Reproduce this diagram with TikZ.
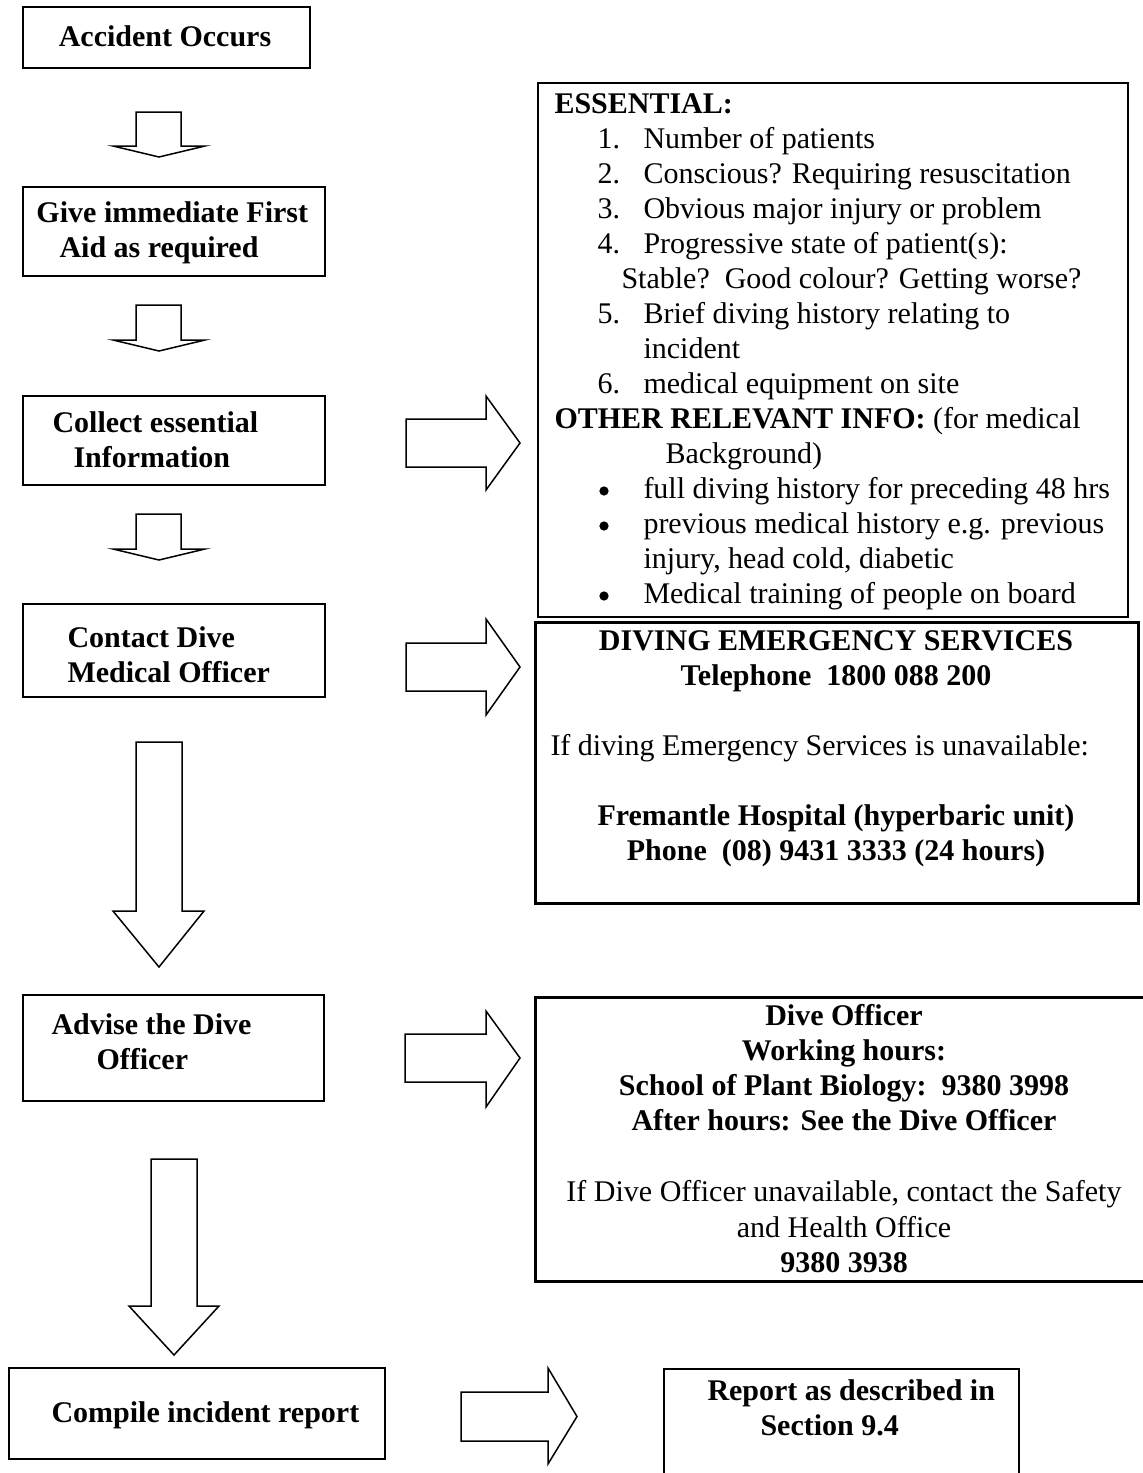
\documentclass[tikz,border=0pt]{standalone}
\usepackage{fontspec}
\setmainfont{Liberation Serif}
\newcommand\pxbox[6][]{%
  \node[boxstyle,minimum width={(#4-#2)*0.4pt},minimum height={(#5-#3)*0.4pt},#1] (#6) at ({(#2+#4)/2},{(#3+#5)/2}) {};}
\newcommand\downblock[8]{% xl xr wl wr top wing tipx tipy
  \draw[arrowstyle] (#1,#5) -- (#2,#5) -- (#2,#6) -- (#4,#6) -- (#7,#8) -- (#3,#6) -- (#1,#6) -- cycle;}
\newcommand\rightblock[7]{% x1 bx tx sy1 sy2 hy1 hy2
  \draw[arrowstyle] (#1,#4) -- (#2,#4) -- (#2,#6) -- (#3,{(#4+#5)/2}) -- (#2,#7) -- (#2,#5) -- (#1,#5) -- cycle;}
\begin{document}
\begin{tikzpicture}[x=0.4pt,y=-0.4pt,
  boxstyle/.style={draw,line width=0.8pt,inner sep=0pt,fill=none},
  heavybox/.style={line width=1.2pt},
  arrowstyle/.style={draw,line width=0.6pt,line join=miter,fill=white},
  txt/.style={anchor=base west,inner sep=0pt,font=\fontsize{12}{14}\selectfont},
  ctxt/.style={anchor=base,inner sep=0pt,font=\fontsize{12}{14}\selectfont},
  bulletdot/.style={circle,fill=black,inner sep=0pt,minimum size=3.7pt},
  bt/.style={font=\fontsize{12}{14}\selectfont\bfseries}]
\useasboundingbox (0,0) rectangle (1143,1473);
\fill[white] (0,0) rectangle (1143,1473);

% left column boxes
\pxbox{23}{7}{310}{68}{b1}
\node[ctxt,bt] (t1) at (165,46) {Accident Occurs};

\pxbox{23}{187}{325}{276}{b2}
\node[txt,bt] (t2a) at (36,222) {Give immediate First};
\node[txt,bt] (t2b) at (59,257) {Aid as required};

\pxbox{23}{396}{325}{485}{b3}
\node[txt,bt] (t3a) at (52,432) {Collect essential};
\node[txt,bt] (t3b) at (73,467) {Information};

\pxbox{23}{604}{325}{697}{b4}
\node[txt,bt] (t4a) at (67,647) {Contact Dive};
\node[txt,bt] (t4b) at (67,682) {Medical Officer};

\pxbox{23}{995}{324}{1101}{b5}
\node[txt,bt] (t5a) at (51,1034) {Advise the Dive};
\node[txt,bt] (t5b) at (96,1069) {Officer};

\pxbox{9}{1368}{385}{1459}{b6}
\node[txt,bt] (t6) at (51,1422) {Compile incident report};

% down arrows
\downblock{136}{181}{113}{205}{112}{146}{159}{157}
\downblock{136}{181}{113}{205}{305}{340}{159}{351}
\downblock{136}{181}{113}{205}{514}{549}{159}{560}
\downblock{136}{182}{113}{204}{742}{911}{159}{967}
\downblock{151}{197}{129}{219}{1159}{1306}{174}{1355}

% right arrows
\rightblock{406}{486}{520}{419}{467}{396}{490}
\rightblock{406}{486}{520}{643}{691}{619}{715}
\rightblock{405}{486}{520}{1034}{1082}{1011}{1107}
\rightblock{461}{548}{577}{1392}{1441}{1368}{1464}

% essential info box
\pxbox{538}{83}{1128}{617}{ess}
\node[txt,bt] (e0) at (554,113) {ESSENTIAL:};
\node[txt] (n1) at (597,148) {1.};
\node[txt] (e1) at (643,148) {Number of patients};
\node[txt] (n2) at (597,183) {2.};
\node[txt] (e2) at (643,183) {Conscious? Requiring resuscitation};
\node[txt] (n3) at (597,218) {3.};
\node[txt] (e3) at (643,218) {Obvious major injury or problem};
\node[txt] (n4) at (597,253) {4.};
\node[txt] (e4) at (643,253) {Progressive state of patient(s):};
\node[txt] (e4b) at (621,288) {Stable?\ \ Good colour? Getting worse?};
\node[txt] (n5) at (597,323) {5.};
\node[txt] (e5) at (643,323) {Brief diving history relating to};
\node[txt] (e5b) at (643,358) {incident};
\node[txt] (n6) at (597,393) {6.};
\node[txt] (e6) at (643,393) {medical equipment on site};
\node[txt] (o0) at (554,428) {\bfseries OTHER RELEVANT INFO:\mdseries\ (for medical};
\node[txt] (o0b) at (665,463) {Background)};
\node[bulletdot] (d1) at (604,491) {};
\node[txt] (o1) at (643,498) {full diving history for preceding 48 hrs};
\node[bulletdot] (d2) at (604,526) {};
\node[txt] (o2) at (643,533) {previous medical history e.g. previous};
\node[txt] (o2b) at (643,568) {injury, head cold, diabetic};
\node[bulletdot] (d3) at (604,596) {};
\node[txt] (o3) at (643,603) {Medical training of people on board};

% diving emergency services box
\pxbox[heavybox]{535}{622}{1138}{903}{des}
\node[ctxt,bt] (s1) at (836,650) {DIVING EMERGENCY SERVICES};
\node[ctxt,bt] (s2) at (836,685) {Telephone\ \ 1800 088 200};
\node[txt] (s3) at (550,755) {If diving Emergency Services is unavailable:};
\node[ctxt,bt] (s4) at (836,825) {Fremantle Hospital (hyperbaric unit)};
\node[ctxt,bt] (s5) at (836,860) {Phone\ \ (08) 9431 3333 (24 hours)};

% dive officer box
\pxbox[heavybox]{535}{997}{1153}{1281}{dob}
\node[ctxt,bt] (f1) at (844,1025) {Dive Officer};
\node[ctxt,bt] (f2) at (844,1060) {Working hours:};
\node[ctxt,bt] (f3) at (844,1095) {School of Plant Biology:\ \ 9380 3998};
\node[ctxt,bt] (f4) at (844,1130) {After hours: See the Dive Officer};
\node[ctxt] (f5) at (844,1201) {If Dive Officer unavailable, contact the Safety};
\node[ctxt] (f6) at (844,1237) {and Health Office};
\node[ctxt,bt] (f7) at (844,1272) {9380 3938};

% report box
\pxbox{664}{1369}{1019}{1490}{rep}
\node[txt,bt] (r1) at (707,1400) {Report as described in};
\node[txt,bt] (r2) at (760,1435) {Section 9.4};
\end{tikzpicture}
\end{document}
